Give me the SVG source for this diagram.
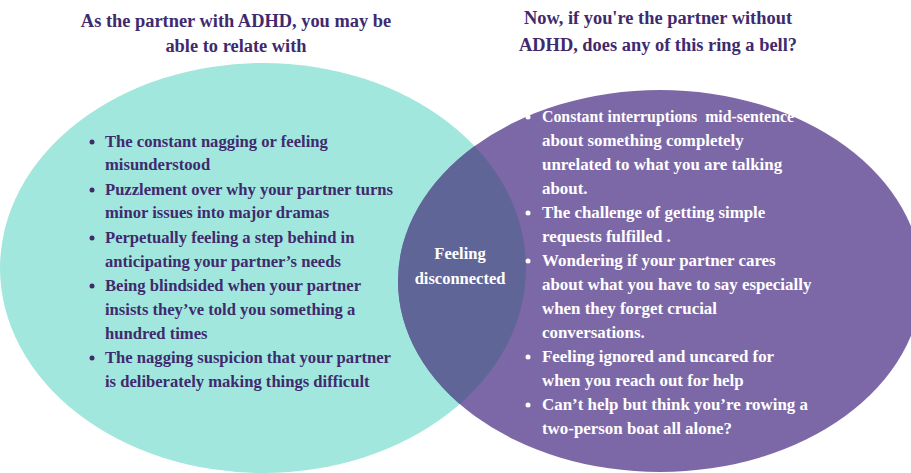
<svg xmlns="http://www.w3.org/2000/svg" width="911" height="473" viewBox="0 0 911 473">
<style>
text{font-family:"Liberation Serif",serif;font-weight:bold;font-size:16.6px}
.h{fill:#3f2a6e;font-size:18.4px;text-anchor:middle}
.l{fill:#3f2a6e}
.r{fill:#ffffff;font-size:16.9px}
.c{fill:#ffffff;font-size:16.5px;text-anchor:middle}
</style>
<defs><clipPath id="lc"><ellipse cx="263" cy="268" rx="263" ry="205"/></clipPath></defs>
<rect width="911" height="473" fill="#ffffff"/>
<g id="left-set"><ellipse cx="263" cy="268" rx="263" ry="205" fill="#a2e7dd"/></g>
<g id="right-set"><ellipse cx="660" cy="281" rx="262" ry="191" fill="#7d68a7"/></g>
<g id="overlap"><ellipse cx="660" cy="281" rx="262" ry="191" fill="#5f6597" clip-path="url(#lc)"/>
<text class="c" x="460" y="259">Feeling</text><text class="c" x="460" y="284">disconnected</text></g>
<g id="headings">
<text class="h" x="236" y="27">As the partner with ADHD, you may be</text>
<text class="h" x="236" y="52">able to relate with</text>
<text class="h" x="658" y="24">Now, if you're the partner without</text>
<text class="h" x="658" y="51">ADHD, does any of this ring a bell?</text>
</g>
<g id="left-list" class="l">
<g fill="#3f2a6e"><circle cx="92" cy="142" r="2.5"/><circle cx="92" cy="190" r="2.5"/><circle cx="92" cy="238" r="2.5"/><circle cx="92" cy="286" r="2.5"/><circle cx="92" cy="358" r="2.5"/></g>
<text class="l" x="105" y="147">The constant nagging or feeling</text>
<text class="l" x="105" y="170">misunderstood</text>
<text class="l" x="105" y="195">Puzzlement over why your partner turns</text>
<text class="l" x="105" y="218">minor issues into major dramas</text>
<text class="l" x="105" y="243">Perpetually feeling a step behind in</text>
<text class="l" x="105" y="267">anticipating your partner’s needs</text>
<text class="l" x="105" y="291">Being blindsided when your partner</text>
<text class="l" x="105" y="315">insists they’ve told you something a</text>
<text class="l" x="105" y="339">hundred times</text>
<text class="l" x="105" y="363">The nagging suspicion that your partner</text>
<text class="l" x="105" y="387">is deliberately making things difficult</text>
</g>
<g id="right-list">
<g fill="#ffffff"><circle cx="528" cy="117" r="2.5"/><circle cx="528" cy="213" r="2.5"/><circle cx="528" cy="261" r="2.5"/><circle cx="528" cy="357" r="2.5"/><circle cx="528" cy="405" r="2.5"/></g>
<text class="r" x="542" y="122" textLength="252" lengthAdjust="spacingAndGlyphs">Constant interruptions&#160; mid-sentence</text>
<text class="r" x="542" y="146">about something completely</text>
<text class="r" x="542" y="170">unrelated to what you are talking</text>
<text class="r" x="542" y="194">about.</text>
<text class="r" x="542" y="218">The challenge of getting simple</text>
<text class="r" x="542" y="242">requests fulfilled .</text>
<text class="r" x="542" y="266">Wondering if your partner cares</text>
<text class="r" x="542" y="290">about what you have to say especially</text>
<text class="r" x="542" y="314">when they forget crucial</text>
<text class="r" x="542" y="338">conversations.</text>
<text class="r" x="542" y="362">Feeling ignored and uncared for</text>
<text class="r" x="542" y="386">when you reach out for help</text>
<text class="r" x="542" y="410">Can’t help but think you’re rowing a</text>
<text class="r" x="542" y="434">two-person boat all alone?</text>
</g>
</svg>
